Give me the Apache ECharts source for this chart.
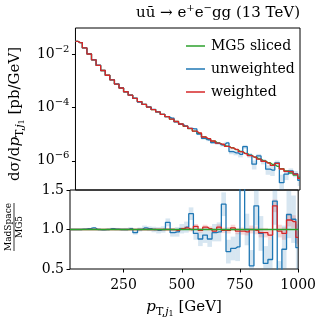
<!DOCTYPE html>
<html><head><meta charset="utf-8">
<script src="https://cdn.jsdelivr.net/npm/echarts@6/dist/echarts.min.js"></script>
<style>html,body{margin:0;padding:0;background:#fff}#c{width:319px;height:319px}</style>
</head><body><div id="c"></div>
<script>
// ---- data (bin centres in GeV, bins 20 GeV wide) ----
const xCenters = [20,40,60,80,100,120,140,160,180,200,220,240,260,280,300,320,340,360,380,400,
  420,440,460,480,500,520,540,560,580,600,620,640,660,680,700,720,740,760,780,800,
  820,840,860,880,900,920,940,960,980,1000];
// MG5 sliced dσ/dpT [pb/GeV]
const mg5 = [3.16e-2,2.82e-2,1.78e-2,1.05e-2,6.31e-3,3.89e-3,2.51e-3,1.66e-3,1.12e-3,7.76e-4,
  5.50e-4,3.98e-4,2.95e-4,2.24e-4,1.70e-4,1.32e-4,1.05e-4,8.51e-5,6.92e-5,5.62e-5,
  4.57e-5,3.72e-5,3.02e-5,2.45e-5,2.00e-5,1.62e-5,1.32e-5,1.07e-5,7.94e-6,6.61e-6,
  5.50e-6,4.68e-6,4.07e-6,3.55e-6,3.09e-6,2.63e-6,2.24e-6,1.91e-6,1.62e-6,1.38e-6,
  1.17e-6,1.00e-6,8.51e-7,7.24e-7,6.17e-7,5.01e-7,4.17e-7,3.47e-7,2.88e-7,2.40e-7];
// ratios MadSpace / MG5
const ratioUnweighted = [1.00,1.00,1.00,1.005,1.01,1.02,1.00,0.995,1.00,1.01,
  1.005,1.00,1.00,1.01,0.96,1.00,1.02,1.01,1.00,0.99,
  1.00,1.09,0.96,0.97,1.01,1.03,1.20,0.95,0.88,0.93,
  0.88,0.96,0.97,1.32,0.72,0.76,0.78,1.78,1.00,0.54,
  1.30,0.95,0.57,0.62,1.36,0.30,0.75,1.19,1.13,0.77];
const errUnweighted = [0.01,0.01,0.01,0.01,0.01,0.01,0.01,0.01,0.012,0.012,
  0.015,0.015,0.02,0.02,0.025,0.025,0.03,0.03,0.035,0.04,
  0.04,0.05,0.05,0.06,0.06,0.07,0.08,0.08,0.09,0.10,
  0.10,0.11,0.12,0.15,0.15,0.15,0.18,0.30,0.20,0.20,
  0.25,0.22,0.22,0.25,0.30,0.30,0.30,0.30,0.30,0.30];
const ratioWeighted = [1.00,1.00,1.00,1.00,1.00,1.00,1.00,1.00,1.00,1.00,
  1.00,1.00,1.00,1.00,1.00,1.00,1.00,1.00,1.00,1.00,
  1.00,1.00,1.00,0.99,1.01,1.02,1.00,1.04,0.99,1.03,
  1.01,0.98,1.03,0.99,0.99,1.02,0.98,0.98,0.97,1.00,
  0.99,0.96,0.96,0.93,1.30,0.98,0.95,1.12,1.10,0.90];
const errWeighted = [0.005,0.005,0.005,0.005,0.005,0.005,0.005,0.005,0.005,0.005,
  0.008,0.008,0.008,0.01,0.01,0.01,0.012,0.012,0.015,0.015,
  0.015,0.02,0.02,0.02,0.02,0.025,0.025,0.03,0.03,0.03,
  0.03,0.03,0.035,0.035,0.04,0.04,0.04,0.045,0.045,0.05,
  0.05,0.06,0.06,0.06,0.08,0.08,0.08,0.08,0.08,0.08];
const topExpTicks = [-6,-4,-2];
const ratioTicks = [0.5,1.0,1.5];
const xTicks = [250,500,750,1000];

// ---- chart ----
const FONT = 'DejaVu Serif';
const C_G = '#2ca02c', C_B = '#1f77b4', C_R = '#d62728';
const XMIN = 20, XMAX = 1000, HALF = 10;
const lg = Math.log10;

function band(xi, yi, lo, hi, color, ylo, yhi) {
  return {
    type: 'custom', xAxisIndex: xi, yAxisIndex: yi, silent: true, z: 1, clip: true,
    encode: {x: 0, y: [1, 2]},
    data: xCenters.map((x, i) => [x, lo[i], hi[i]]),
    renderItem(params, api) {
      const x = api.value(0);
      const l = Math.max(api.value(1), ylo), h = Math.min(api.value(2), yhi);
      if (!(h > l)) return null;
      const p0 = api.coord([Math.max(x - HALF, XMIN), h]);
      const p1 = api.coord([Math.min(x + HALF, XMAX), l]);
      return {type: 'rect', shape: {x: p0[0], y: p0[1], width: p1[0] - p0[0], height: p1[1] - p0[1]},
        style: {fill: color}};
    }
  };
}
function step(name, color, xi, yi, ys, z) {
  return {type: 'line', name, step: 'middle', xAxisIndex: xi, yAxisIndex: yi, symbol: 'none',
    showSymbol: false, z, lineStyle: {color, width: 1.3}, itemStyle: {color},
    data: xCenters.map((x, i) => [x, ys[i]])};
}
const TOPMIN = -7.1, TOPMAX = -1.0;
const unwTop = mg5.map((v, i) => v * ratioUnweighted[i]);
const wTop = mg5.map((v, i) => v * ratioWeighted[i]);
const bandLo = (r, e) => r.map((v, i) => Math.max(v - e[i], 0.05));
const bandHi = (r, e) => r.map((v, i) => v + e[i]);
const nameRich = {
  i: {fontFamily: FONT, fontStyle: 'italic', fontSize: 15, color: '#000', lineHeight: 21},
  s: {fontFamily: FONT, fontSize: 11, color: '#000', verticalAlign: 'bottom', lineHeight: 15},
  si: {fontFamily: FONT, fontStyle: 'italic', fontSize: 11, color: '#000', verticalAlign: 'bottom', lineHeight: 15},
  ss: {fontFamily: FONT, fontSize: 8, color: '#000', verticalAlign: 'bottom', lineHeight: 10},
  n: {fontFamily: FONT, fontSize: 15, color: '#000', lineHeight: 21}
};

const chart = echarts.init(document.getElementById('c'), null, {renderer: 'canvas'});
const tickStyle = {show: true, length: 3.5, lineStyle: {color: '#000', width: 1}};
chart.setOption({
  animation: false,
  textStyle: {fontFamily: FONT},
  grid: [
    {left: 70, top: 28, width: 230, height: 162, show: true, borderColor: '#000', borderWidth: 1, backgroundColor: 'transparent'},
    {left: 70, top: 190, width: 230, height: 79, show: true, borderColor: '#000', borderWidth: 1, backgroundColor: 'transparent'}
  ],
  xAxis: [
    {type: 'value', gridIndex: 0, min: XMIN, max: XMAX, axisLabel: {show: false}, axisTick: {show: false},
      axisLine: {show: false}, splitLine: {show: false}},
    {type: 'value', gridIndex: 1, min: XMIN, max: XMAX, splitLine: {show: false},
      axisLine: {show: false},
      axisTick: Object.assign({customValues: xTicks}, tickStyle),
      axisLabel: {customValues: xTicks, color: '#000', fontFamily: FONT, fontSize: 14, margin: 9,
        formatter: v => String(v)},
      name: '{i|p}{s|T,}{si|j}{ss|1}{n| [GeV]}', nameLocation: 'middle', nameGap: 28,
      nameTextStyle: {color: '#000', rich: nameRich}}
  ],
  yAxis: [
    {type: 'value', gridIndex: 0, min: TOPMIN, max: TOPMAX, splitLine: {show: false}, axisLine: {show: false},
      axisTick: Object.assign({customValues: topExpTicks}, tickStyle),
      axisLabel: {customValues: topExpTicks, margin: 6,
        formatter: v => '{b|10}{s|\u2212' + Math.abs(v) + '}',
        rich: {b: {fontFamily: FONT, fontSize: 14, color: '#000', lineHeight: 20},
               s: {fontFamily: FONT, fontSize: 10, color: '#000', verticalAlign: 'top', lineHeight: 13}}},
      name: '{n|d\u03c3/d}{i|p}{s|T,}{si|j}{ss|1}{n| [pb/GeV]}', nameLocation: 'middle', nameGap: 47, nameRotate: 90,
      nameTextStyle: {color: '#000', rich: nameRich, padding: [0, 10, 0, 0]}},
    {type: 'value', gridIndex: 1, min: 0.5, max: 1.5, interval: 0.5, splitLine: {show: false}, axisLine: {show: false},
      axisTick: tickStyle,
      axisLabel: {color: '#000', fontFamily: FONT, fontSize: 14, margin: 6, formatter: v => v.toFixed(1),
        showMinLabel: true, showMaxLabel: true}}
  ],
  legend: {
    data: ['MG5 sliced', 'unweighted', 'weighted'], orient: 'vertical', left: 181, top: 34,
    icon: 'rect', itemWidth: 19, itemHeight: 1.5, itemGap: 9, selectedMode: false,
    textStyle: {fontFamily: FONT, fontSize: 14, color: '#000', padding: [0, 0, 0, 1]}
  },
  graphic: [
    {type: 'text', x: 300, y: 13, style: {
      text: '{n|u\u016b \u2192 e}{p|+}{n|e}{p|\u2212}{n|gg (13 TeV)}', align: 'right', verticalAlign: 'middle',
      rich: {n: {fontFamily: FONT, fontSize: 15, fill: '#000', lineHeight: 20},
             p: {fontFamily: FONT, fontSize: 10, fill: '#000', verticalAlign: 'top', lineHeight: 13}}}},
    {type: 'group', x: 14, y: 227, rotation: Math.PI / 2, children: [
      {type: 'text', x: 0, y: -1, style: {text: 'MadSpace', fontFamily: FONT, fontSize: 9, fill: '#000', align: 'center', verticalAlign: 'bottom'}},
      {type: 'line', shape: {x1: -24, y1: 0, x2: 24, y2: 0}, style: {stroke: '#000', lineWidth: 0.8}},
      {type: 'text', x: 0, y: 1, style: {text: 'MG5', fontFamily: FONT, fontSize: 9, fill: '#000', align: 'center', verticalAlign: 'top'}}
    ]}
  ],
  series: [
    band(0, 0, bandLo(ratioUnweighted, errUnweighted).map((r,i)=>lg(mg5[i]*r)),
      bandHi(ratioUnweighted, errUnweighted).map((r,i)=>lg(mg5[i]*r)), 'rgba(31,119,180,0.18)', TOPMIN, TOPMAX),
    band(0, 0, bandLo(ratioWeighted, errWeighted).map((r,i)=>lg(mg5[i]*r)),
      bandHi(ratioWeighted, errWeighted).map((r,i)=>lg(mg5[i]*r)), 'rgba(214,39,40,0.18)', TOPMIN, TOPMAX),
    step('MG5 sliced', C_G, 0, 0, mg5.map(lg), 3),
    step('unweighted', C_B, 0, 0, unwTop.map(lg), 4),
    step('weighted', C_R, 0, 0, wTop.map(lg), 5),
    band(1, 1, bandLo(ratioUnweighted, errUnweighted), bandHi(ratioUnweighted, errUnweighted), 'rgba(31,119,180,0.18)', 0.5, 1.5),
    band(1, 1, bandLo(ratioWeighted, errWeighted), bandHi(ratioWeighted, errWeighted), 'rgba(214,39,40,0.18)', 0.5, 1.5),
    step('unweighted', C_B, 1, 1, ratioUnweighted, 4),
    step('weighted', C_R, 1, 1, ratioWeighted, 5),
    step('MG5 sliced', C_G, 1, 1, mg5.map(() => 1), 6)
  ]
});
</script>
</body></html>
